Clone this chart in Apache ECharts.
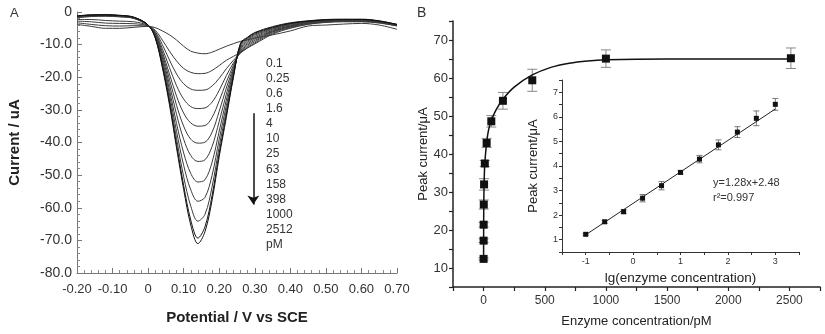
<!DOCTYPE html>
<html>
<head>
<meta charset="utf-8">
<script src="https://cdn.jsdelivr.net/npm/echarts@6/dist/echarts.min.js"></script>
<style>
html, body { margin: 0; padding: 0; background: #fff; }
#main { width: 825px; height: 334px; }
</style>
</head>
<body>
<div id="main"></div>
<script>
// ---- panel A: DPV curves (current in uA vs potential in V) ----
var potential = [-0.20, -0.16, -0.12, -0.08, -0.04, 0.00, 0.02, 0.04, 0.06, 0.08, 0.10, 0.12, 0.14, 0.16, 0.18,
                 0.20, 0.22, 0.24, 0.26, 0.28, 0.30, 0.35, 0.40, 0.45, 0.50, 0.55, 0.60, 0.65, 0.70];
var concLabels = ['0.1', '0.25', '0.6', '1.6', '4', '10', '25', '63', '158', '398', '1000', '2512'];

var cv_0_1 = [-3.8, -4.4, -5.0, -5.0, -4.7, -4.4, -4.8, -5.8, -7.0, -8.6, -10.5, -12.0, -12.6, -12.8, -12.3,
              -11.4, -10.5, -9.7, -9.0, -8.5, -8.0, -7.0, -5.8, -4.3, -4.0, -3.7, -3.5, -4.0, -5.3];
var cv_0_25 = [-3.3, -3.8, -4.2, -4.3, -4.2, -4.3, -5.6, -8.6, -12.0, -15.0, -17.3, -18.5, -18.9, -18.8, -17.9,
               -16.4, -14.8, -13.6, -12.4, -11.0, -9.8, -6.8, -5.0, -3.8, -3.2, -3.0, -3.0, -3.4, -4.3];
var cv_0_6 = [-2.8, -3.0, -3.4, -3.5, -3.6, -4.3, -6.0, -10.0, -14.7, -19.0, -22.0, -23.6, -24.0, -23.9, -22.7,
              -20.3, -17.4, -14.8, -12.6, -10.9, -9.5, -6.5, -4.8, -3.7, -3.1, -2.9, -2.9, -3.3, -4.2];
var cv_1_6 = [-2.3, -2.3, -2.6, -2.8, -3.0, -4.2, -6.3, -11.2, -17.0, -22.6, -26.7, -29.0, -29.6, -29.4, -27.6,
              -24.0, -19.5, -15.6, -12.4, -10.5, -9.1, -6.2, -4.6, -3.5, -3.0, -2.8, -2.8, -3.2, -4.2];
var cv_4 = [-1.8, -1.4, -1.3, -1.5, -2.0, -4.2, -6.6, -12.2, -19.0, -25.8, -31.0, -34.0, -35.0, -34.8, -32.3,
            -27.2, -21.5, -16.3, -12.1, -10.1, -8.7, -6.0, -4.5, -3.4, -2.9, -2.7, -2.7, -3.1, -4.1];
var cv_10 = [-1.6, -1.3, -1.2, -1.4, -1.9, -4.1, -6.8, -13.0, -20.6, -28.6, -35.0, -39.0, -40.2, -39.9, -36.8,
             -30.4, -23.3, -17.0, -11.8, -9.7, -8.3, -5.8, -4.3, -3.3, -2.8, -2.7, -2.6, -3.1, -4.1];
var cv_25 = [-1.5, -1.2, -1.1, -1.3, -1.8, -4.1, -7.0, -13.8, -22.2, -31.4, -39.0, -44.0, -45.8, -45.3, -41.2,
             -33.5, -25.2, -17.6, -11.4, -9.3, -7.9, -5.6, -4.2, -3.2, -2.7, -2.6, -2.6, -3.0, -4.0];
var cv_63 = [-1.4, -1.1, -1.0, -1.2, -1.8, -4.0, -7.2, -14.6, -23.8, -34.2, -43.2, -49.5, -52.1, -51.4, -46.0,
             -36.5, -27.0, -18.2, -11.0, -8.9, -7.5, -5.3, -4.0, -3.1, -2.6, -2.5, -2.5, -3.0, -4.0];
var cv_158 = [-1.3, -1.0, -1.0, -1.2, -1.7, -4.0, -7.4, -15.3, -25.2, -36.6, -47.0, -54.5, -58.0, -56.8, -50.0,
              -39.0, -28.7, -18.7, -10.6, -8.5, -7.1, -5.1, -3.8, -3.0, -2.6, -2.4, -2.4, -2.9, -3.9];
var cv_398 = [-1.3, -1.0, -0.9, -1.1, -1.7, -4.0, -7.6, -16.0, -26.5, -38.8, -50.5, -59.5, -64.1, -62.0, -53.5,
              -41.3, -30.2, -19.2, -10.2, -8.2, -6.8, -4.9, -3.6, -2.9, -2.5, -2.3, -2.3, -2.8, -3.9];
var cv_1000 = [-1.2, -0.9, -0.9, -1.1, -1.6, -4.0, -7.8, -16.5, -27.6, -40.6, -53.2, -63.8, -69.3, -65.8, -56.2,
               -43.2, -31.5, -19.6, -9.8, -7.9, -6.5, -4.7, -3.5, -2.8, -2.4, -2.3, -2.3, -2.8, -3.8];
var cv_2512 = [-1.2, -0.9, -0.8, -1.0, -1.6, -4.0, -8.0, -17.0, -28.4, -41.7, -54.4, -65.3, -71.0, -67.3, -57.6,
               -44.3, -32.3, -20.0, -9.5, -7.7, -6.3, -4.5, -3.3, -2.7, -2.3, -2.2, -2.2, -2.7, -3.8];
var curvesA = [cv_0_1, cv_0_25, cv_0_6, cv_1_6, cv_4, cv_10, cv_25, cv_63, cv_158, cv_398, cv_1000, cv_2512];

// arrow next to the concentration list
var arrowX = 0.296;
var arrowY = [-31, -59];

// ---- panel B: peak current vs enzyme concentration ----
var concPM = [0.1, 0.25, 0.6, 1.6, 4, 10, 25, 63, 158, 398, 1000, 2512];
var peakCur = [12.4, 17.2, 21.4, 26.7, 32.0, 37.5, 42.9, 48.6, 54.0, 59.4, 65.1, 65.2];
var peakErr = [0.3, 0.5, 0.6, 1.2, 1.5, 0.8, 1.2, 1.5, 2.2, 2.9, 2.3, 2.7];
var fitConc = [0.1, 0.6, 1.6, 4, 10, 25, 40, 63, 100, 158, 250, 398, 550, 700, 850, 1000, 1500, 2000, 2512];
var fitCur = [12.4, 21.4, 26.7, 32.0, 37.5, 43.0, 46.2, 48.8, 51.5, 54.4, 57.6, 60.8, 62.8, 63.9, 64.5, 64.8, 65.0, 65.0, 65.0];

// inset: peak current vs lg(concentration)
var lgConc = [-1, -0.6, -0.2, 0.2, 0.6, 1, 1.4, 1.8, 2.2, 2.6, 3];
var insetCur = [1.22, 1.73, 2.14, 2.69, 3.2, 3.74, 4.28, 4.86, 5.38, 5.94, 6.51];
var insetErr = [0.04, 0.06, 0.08, 0.15, 0.17, 0.07, 0.15, 0.2, 0.22, 0.3, 0.24];
var insetFitX = [-1, 3];
var insetFitY = [1.2, 6.32];

var FONT = 'Liberation Sans, Arial, sans-serif';

function zip(xs, ys) {
    return xs.map(function (x, i) { return [x, ys[i]]; });
}

function errorBars(xs, ys, es, idx, capHalf, color) {
    return {
        type: 'custom',
        xAxisIndex: idx,
        yAxisIndex: idx,
        z: 1,
        silent: true,
        data: xs.map(function (x, i) { return [x, ys[i], es[i]]; }),
        encode: { x: 0, y: 1 },
        renderItem: function (params, api) {
            var x = api.value(0), y = api.value(1), e = api.value(2);
            var hi = api.coord([x, y + e]);
            var lo = api.coord([x, y - e]);
            var st = { stroke: color, lineWidth: 1 };
            return {
                type: 'group',
                children: [
                    { type: 'line', shape: { x1: hi[0], y1: hi[1], x2: lo[0], y2: lo[1] }, style: st },
                    { type: 'line', shape: { x1: hi[0] - capHalf, y1: hi[1], x2: hi[0] + capHalf, y2: hi[1] }, style: st },
                    { type: 'line', shape: { x1: lo[0] - capHalf, y1: lo[1], x2: lo[0] + capHalf, y2: lo[1] }, style: st }
                ]
            };
        }
    };
}

var seriesA = curvesA.map(function (c, k) {
    var s = {
        type: 'line',
        xAxisIndex: 0,
        yAxisIndex: 0,
        data: zip(potential, c),
        showSymbol: false,
        smooth: 0.35,
        silent: true,
        lineStyle: { width: 1, color: k >= 10 ? '#111' : '#3a3a3a' }
    };
    if (k === 0) {
        s.markLine = {
            silent: true,
            symbol: ['none', 'arrow'],
            symbolSize: 9,
            label: { show: false },
            lineStyle: { color: '#111', width: 1.5, type: 'solid' },
            data: [[{ coord: [arrowX, arrowY[0]] }, { coord: [arrowX, arrowY[1]] }]]
        };
    }
    return s;
});

var myChart = echarts.init(document.getElementById('main'));
var option = {
    animation: false,
    textStyle: { fontFamily: FONT },
    title: [{
        text: 'A', left: 10, top: 7, padding: 0,
        textStyle: { fontSize: 13, fontWeight: 'normal', color: '#333', fontFamily: FONT }
    }, {
        text: 'B', left: 417, top: 6, padding: 0,
        textStyle: { fontSize: 14, fontWeight: 'normal', color: '#333', fontFamily: FONT }
    }],
    grid: [
        { left: 77, right: 428, top: 12, bottom: 61 },
        { left: 453, right: 5, top: 21, bottom: 47 },
        { left: 562, right: 26, top: 80, bottom: 82 }
    ],
    xAxis: [{
        gridIndex: 0, type: 'value', min: -0.2, max: 0.7, interval: 0.1,
        name: 'Potential / V vs SCE', nameLocation: 'middle', nameGap: 37,
        nameTextStyle: { fontSize: 15, fontWeight: 'bold', color: '#222', fontFamily: FONT },
        axisLine: { onZero: false, lineStyle: { color: '#777', width: 1 } },
        axisTick: { inside: true, length: 5, lineStyle: { color: '#777' } },
        minorTick: { show: true, splitNumber: 5, length: 3, lineStyle: { color: '#888' } },
        splitLine: { show: false },
        axisLabel: {
            fontSize: 13, color: '#333', margin: 10,
            formatter: function (v) { return Math.abs(v) < 1e-9 ? '0' : v.toFixed(2); }
        }
    }, {
        gridIndex: 1, type: 'value', min: -250, max: 2750, interval: 250,
        name: 'Enzyme concentration/pM', nameLocation: 'middle', nameGap: 28,
        nameTextStyle: { fontSize: 13, color: '#222', fontFamily: FONT },
        axisLine: { onZero: false, lineStyle: { color: '#222', width: 1.5 } },
        axisTick: { length: 4, lineStyle: { color: '#222', width: 1.2 } },
        splitLine: { show: false },
        axisLabel: {
            fontSize: 12, color: '#333', margin: 8,
            formatter: function (v) { return (v >= 0 && v % 500 === 0) ? String(v) : ''; }
        }
    }, {
        gridIndex: 2, type: 'value', min: -1.5, max: 3.5, interval: 0.5,
        name: 'lg(enzyme concentration)', nameLocation: 'middle', nameGap: 14,
        nameTextStyle: { fontSize: 13.5, color: '#222', fontFamily: FONT },
        axisLine: { onZero: false, lineStyle: { color: '#333', width: 1 } },
        axisTick: { length: 3, lineStyle: { color: '#333' } },
        splitLine: { show: false },
        axisLabel: {
            fontSize: 9, color: '#333', margin: 5,
            formatter: function (v) { return Math.abs(v - Math.round(v)) < 1e-9 ? String(Math.round(v)) : ''; }
        }
    }],
    yAxis: [{
        gridIndex: 0, type: 'value', min: -80, max: 0, interval: 10,
        name: 'Current / uA', nameLocation: 'middle', nameGap: 55,
        nameTextStyle: { fontSize: 15, fontWeight: 'bold', color: '#222', fontFamily: FONT },
        axisLine: { show: true, onZero: false, lineStyle: { color: '#777', width: 1 } },
        axisTick: { show: true, inside: true, length: 5, lineStyle: { color: '#777' } },
        minorTick: { show: true, splitNumber: 5, length: 3, lineStyle: { color: '#888' } },
        splitLine: { show: false },
        axisLabel: {
            fontSize: 14, color: '#333', margin: 5,
            formatter: function (v) { return v === 0 ? '0' : v.toFixed(1); }
        }
    }, {
        gridIndex: 1, type: 'value', min: 5, max: 75, interval: 5,
        name: 'Peak current/\u03bcA', nameLocation: 'middle', nameGap: 23,
        nameTextStyle: { fontSize: 13, color: '#222', fontFamily: FONT },
        axisLine: { show: true, onZero: false, lineStyle: { color: '#222', width: 1.5 } },
        axisTick: { show: true, length: 4, lineStyle: { color: '#222', width: 1.2 } },
        splitLine: { show: false },
        axisLabel: {
            fontSize: 13, color: '#333', margin: 5,
            formatter: function (v) { return v % 10 === 0 ? String(v) : ''; }
        }
    }, {
        gridIndex: 2, type: 'value', min: 0.5, max: 7.5, interval: 0.5,
        name: 'Peak current/\u03bcA', nameLocation: 'middle', nameGap: 22,
        nameTextStyle: { fontSize: 13, color: '#222', fontFamily: FONT },
        axisLine: { show: true, onZero: false, lineStyle: { color: '#333', width: 1 } },
        axisTick: { show: true, length: 3, lineStyle: { color: '#333' } },
        splitLine: { show: false },
        axisLabel: {
            fontSize: 9, color: '#333', margin: 4,
            formatter: function (v) { return Math.abs(v - Math.round(v)) < 1e-9 ? String(Math.round(v)) : ''; }
        }
    }],
    graphic: [{
        type: 'text', left: 266, top: 56, silent: true,
        style: {
            text: concLabels.concat(['pM']).join('\n'),
            fontSize: 12, lineHeight: 15.1, fill: '#333', fontFamily: FONT
        }
    }, {
        type: 'text', left: 713, top: 175, silent: true,
        style: {
            text: 'y=1.28x+2.48\nr\u00b2=0.997',
            fontSize: 11, lineHeight: 15, fill: '#333', fontFamily: FONT
        }
    }],
    series: seriesA.concat([
        {
            type: 'line', xAxisIndex: 1, yAxisIndex: 1, silent: true,
            data: zip(fitConc, fitCur), showSymbol: false, smooth: 0.2,
            lineStyle: { color: '#111', width: 1.5 }, z: 2
        },
        errorBars(concPM, peakCur, peakErr, 1, 5, '#888'),
        {
            type: 'scatter', xAxisIndex: 1, yAxisIndex: 1, silent: true,
            data: zip(concPM, peakCur), symbol: 'rect', symbolSize: 8,
            itemStyle: { color: '#111', opacity: 1 }, z: 3
        },
        {
            type: 'line', xAxisIndex: 2, yAxisIndex: 2, silent: true,
            data: zip(insetFitX, insetFitY), showSymbol: false,
            lineStyle: { color: '#222', width: 1 }, z: 2
        },
        errorBars(lgConc, insetCur, insetErr, 2, 3, '#777'),
        {
            type: 'scatter', xAxisIndex: 2, yAxisIndex: 2, silent: true,
            data: zip(lgConc, insetCur), symbol: 'rect', symbolSize: 5,
            itemStyle: { color: '#111', opacity: 1 }, z: 3
        }
    ])
};
myChart.setOption(option);
</script>
</body>
</html>
